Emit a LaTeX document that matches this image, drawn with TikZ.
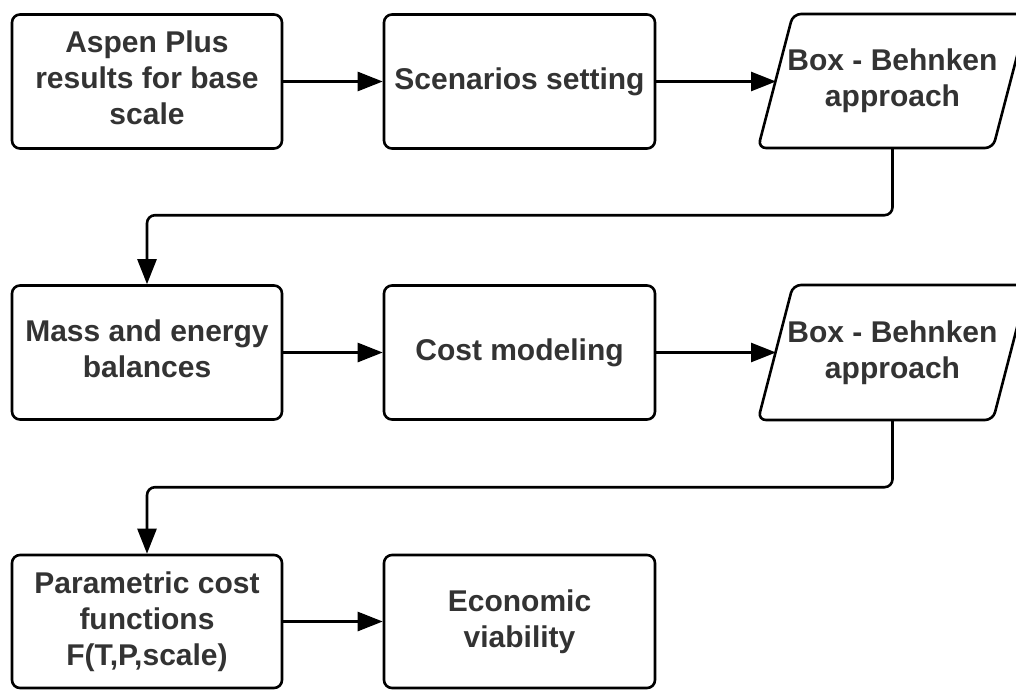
\documentclass[tikz,border=0pt]{standalone}
\usepackage{fontspec}
\setmainfont{Liberation Sans}
\usetikzlibrary{arrows.meta}
\definecolor{txt}{HTML}{333333}
\newcommand{\dropfix}{\rule[-8pt]{0pt}{8pt}}
\begin{document}
\begin{tikzpicture}[x=1pt,y=-1pt,
  lw/.style={line width=2.6pt},
  txtfont/.style={font=\fontsize{30}{36}\selectfont\bfseries, text=txt, align=center},
  box/.style={draw=black, lw, rounded corners=8pt, minimum width=270pt, minimum height=134pt, inner sep=0pt, txtfont},
  para/.style={draw=black, lw, rounded corners=8pt},
  lbl/.style={inner sep=0pt, minimum width=1pt, minimum height=134pt, txtfont},
  conn/.style={draw=black, lw, rounded corners=8pt, -{Triangle[length=25pt,width=19pt]}}]
\useasboundingbox (0,0) rectangle (1016,690);
\fill[white] (0,0) rectangle (1016,690);
\clip (0,0) rectangle (1016,690);

% row 1
\node[box] (A) at (147,81.5) {Aspen Plus\\results for base\\scale\dropfix};
\node[box, minimum width=271pt] (B) at (519.5,81.5) {Scenarios setting\rule[-4pt]{0pt}{4pt}};
\draw[para] (793,14) -- (1028,14) -- (993,148) -- (758,148) -- cycle;
\node[lbl] (P1) at (892.5,81) {Box - Behnken\\approach};
\coordinate (P1in) at (776,81.5);

% row 2
\node[box] (M) at (147,352.5) {Mass and energy\\balances\dropfix};
\node[box, minimum width=271pt] (C) at (519.5,352.5) {Cost modeling};
\draw[para] (793,285) -- (1028,285) -- (993,420) -- (758,420) -- cycle;
\node[lbl, minimum height=135pt] (P2) at (892.5,352.5) {Box - Behnken\\approach};
\coordinate (P2in) at (776,352.5);

% row 3
\node[box, minimum height=133pt] (F) at (147,621.5) {Parametric cost\\functions\\F(T,P,scale)};
\node[box, minimum width=271pt, minimum height=133pt] (E) at (519.5,621.5) {Economic\\viability};

% connectors
\draw[conn] (A.east) -- (B.west);
\draw[conn] (B.east) -- (P1in);
\draw[conn] (P1.south) -- ++(0,67) -| (M.north);
\draw[conn] (M.east) -- (C.west);
\draw[conn] (C.east) -- (P2in);
\draw[conn] (P2.south) -- ++(0,67) -| (F.north);
\draw[conn] (F.east) -- (E.west);
\end{tikzpicture}
\end{document}
